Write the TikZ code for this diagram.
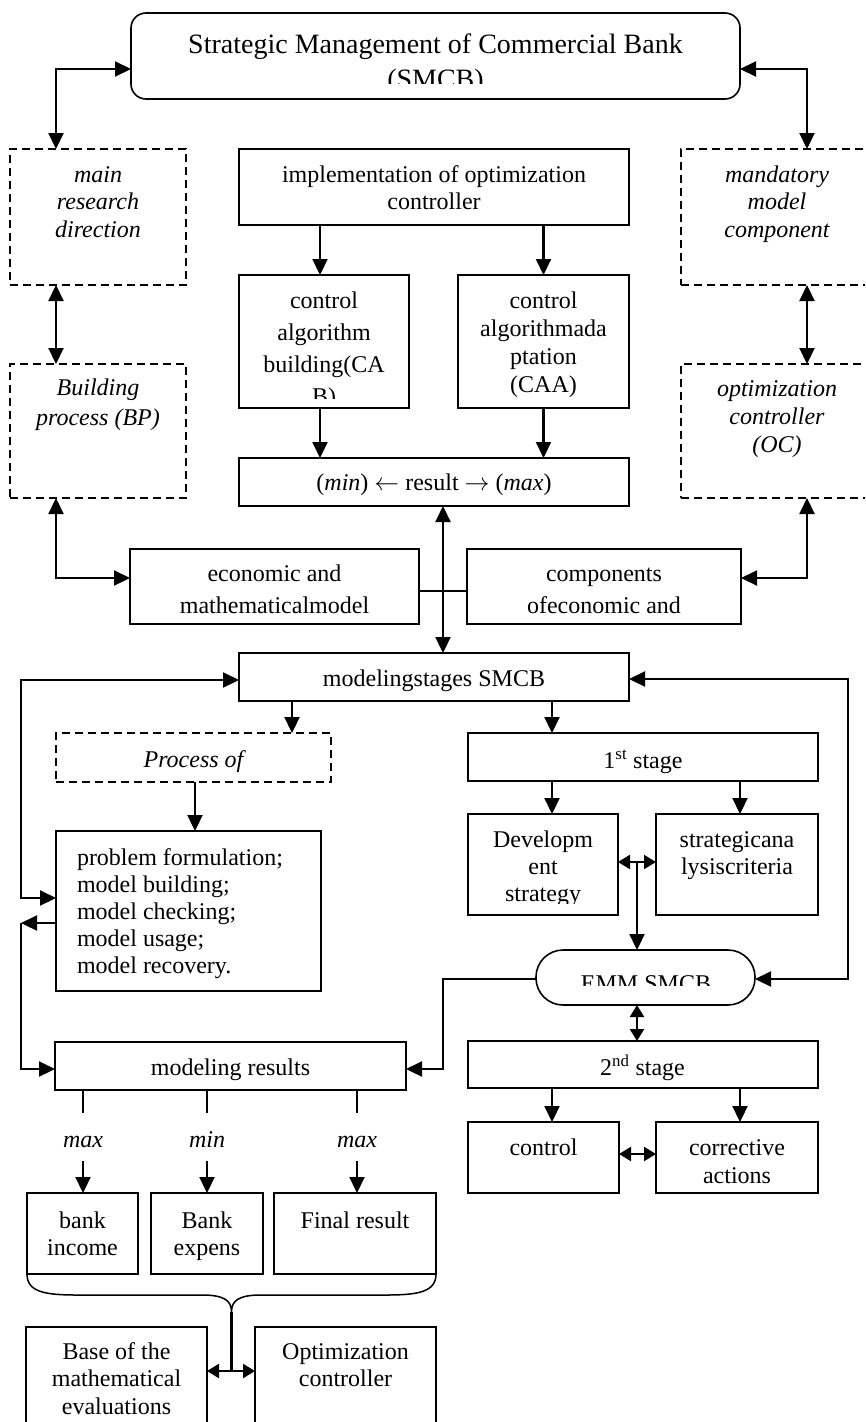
\documentclass[tikz,border=0pt]{standalone}
\usepackage{fontspec}
\setmainfont{Liberation Serif}
\usetikzlibrary{arrows.meta,calc}
\newcommand{\fh}{\rule{0pt}{17pt}}
\newcommand{\fhb}{\rule{0pt}{20pt}}
\begin{document}
\begin{tikzpicture}[x=1pt,y=-1pt,
  bx/.style={draw, line width=1.6pt, inner sep=0pt, outer sep=0pt},
  dbx/.style={bx, dash pattern=on 8pt off 5pt},
  tx/.style={inner sep=0pt, outer sep=0pt, anchor=north, align=center, font=\fontsize{24}{28}\selectfont},
  itx/.style={tx, font=\fontsize{24}{28}\selectfont\itshape},
  ar/.style={line width=2.2pt, -{Triangle[length=16pt,width=15pt]}},
  dar/.style={line width=2.2pt, {Triangle[length=16pt,width=15pt]}-{Triangle[length=16pt,width=15pt]}},
  sdar/.style={line width=2.2pt, {Triangle[length=12pt,width=14pt]}-{Triangle[length=12pt,width=14pt]}},
  ln/.style={line width=2.2pt},
]
\useasboundingbox (0,0) rectangle (865,1422);
\clip (0,0) rectangle (865,1422);
\fill[white] (0,0) rectangle (865,1422);

% ---------- boxes ----------
\node[bx, rounded corners=15pt, minimum width=609pt, minimum height=86pt] (top) at (435.5,56) {};
\node[dbx, minimum width=176pt, minimum height=136pt] (mrd) at (98,217) {};
\node[dbx, minimum width=176pt, minimum height=134pt] (bp) at (98,431) {};
\node[bx, minimum width=390pt, minimum height=76pt] (impl) at (434,187) {};
\node[bx, minimum width=170pt, minimum height=133pt] (cab) at (324,341.5) {};
\node[bx, minimum width=171pt, minimum height=133pt] (caa) at (543.5,341.5) {};
\node[dbx, minimum width=192pt, minimum height=136pt] (mmc) at (777,217) {};
\node[dbx, minimum width=192pt, minimum height=134pt] (oc) at (777,431) {};
\node[bx, minimum width=390pt, minimum height=48pt] (res) at (434,482) {};
\node[bx, minimum width=289pt, minimum height=75pt] (econ) at (274.5,586.5) {};
\node[bx, minimum width=274pt, minimum height=75pt] (comp) at (604,586.5) {};
\node[bx, minimum width=390pt, minimum height=48pt] (stg) at (434,677) {};
\node[dbx, minimum width=275pt, minimum height=49pt] (proc) at (193.5,757.5) {};
\node[bx, minimum width=265pt, minimum height=160pt] (prob) at (188.5,911) {};
\node[bx, minimum width=350pt, minimum height=48pt] (st1) at (643,757) {};
\node[bx, minimum width=150pt, minimum height=101pt] (dev) at (543,864.5) {};
\node[bx, minimum width=162pt, minimum height=101pt] (sa) at (737,864.5) {};
\node[bx, rounded corners=27pt, minimum width=219pt, minimum height=55pt] (emm) at (645.5,977.5) {};
\node[bx, minimum width=350pt, minimum height=47pt] (st2) at (643,1064.5) {};
\node[bx, minimum width=151pt, minimum height=71pt] (ctl) at (543.5,1157.5) {};
\node[bx, minimum width=162pt, minimum height=71pt] (ca) at (737,1157.5) {};
\node[bx, minimum width=351pt, minimum height=48pt] (mres) at (230.5,1066) {};
\node[bx, minimum width=111pt, minimum height=81pt] (bi) at (82.5,1233.5) {};
\node[bx, minimum width=112pt, minimum height=81pt] (be) at (207,1233.5) {};
\node[bx, minimum width=162pt, minimum height=81pt] (fr) at (355,1233.5) {};
\node[bx, minimum width=181pt, minimum height=115pt] (base) at (116.5,1384.5) {};
\node[bx, minimum width=181pt, minimum height=115pt] (opt) at (345.5,1384.5) {};

% ---------- texts ----------
\begin{scope}
\clip (top.north west) rectangle ($(top.south east)+(0,-16)$);
\node[tx, font=\fontsize{28}{35}\selectfont] (topT) at (435.5,33) {\fhb Strategic Management of Commercial Bank\\(SMCB)};
\end{scope}
\node[itx, font=\fontsize{24}{27.5}\selectfont\itshape] (mrdT) at (98,165) {\fh main\\research\\direction};
\node[itx, font=\fontsize{24}{30}\selectfont\itshape] (bpT) at (98,378) {\fh Building\\process (BP)};
\node[tx, font=\fontsize{24}{27}\selectfont] (implT) at (434,165) {\fh implementation of optimization\\controller};
\begin{scope}
\clip (cab.north west) rectangle ($(cab.south east)+(0,-10)$);
\node[tx, font=\fontsize{24}{32}\selectfont] (cabT) at (324,291) {\fh control\\algorithm\\building(CA\\B)};
\end{scope}
\node[tx] (caaT) at (543.5,291) {\fh control\\algorithmada\\ptation\\(CAA)};
\node[itx, font=\fontsize{24}{27.5}\selectfont\itshape] (mmcT) at (777,165) {\fh mandatory\\model\\component};
\node[itx] (ocT) at (777,379) {\fh optimization\\controller\\(OC)};
\node[tx] (resT) at (434,473) {\fh(\textit{min}) $\leftarrow$ result $\rightarrow$ (\textit{max})};
\node[tx, font=\fontsize{24}{32}\selectfont] (econT) at (274.5,564) {\fh economic and\\mathematicalmodel};
\node[tx, font=\fontsize{24}{32}\selectfont] (compT) at (604,564) {\fh components\\ofeconomic and};
\node[tx] (stgT) at (434,669) {\fh modelingstages SMCB};
\node[itx] (procT) at (193.5,750) {\fh Process of};
\node[tx, anchor=north west, align=left, font=\fontsize{24}{27}\selectfont] (probT) at (77,848) {\fh problem formulation;\\model building;\\model checking;\\model usage;\\model recovery.};
\node[tx] (st1T) at (643,750) {\fh 1\textsuperscript{st} stage};
\begin{scope}
\clip (dev.north west) rectangle ($(dev.south east)+(0,-12)$);
\node[tx, font=\fontsize{24}{27}\selectfont] (devT) at (543,830) {\fh Developm\\ent\\strategy};
\end{scope}
\node[tx, font=\fontsize{24}{27}\selectfont] (saT) at (737,830) {\fh strategicana\\lysiscriteria};
\begin{scope}
\clip (emm.north west) rectangle ($(emm.south east)+(0,-20)$);
\node[tx] (emmT) at (646,974) {\fh EMM SMCB};
\end{scope}
\node[tx] (st2T) at (642.5,1055) {\fh 2\textsuperscript{nd} stage};
\node[tx] (ctlT) at (543.5,1138) {\fh control};
\node[tx] (caT) at (737,1138) {\fh corrective\\actions};
\node[tx] (mresT) at (230.5,1058) {\fh modeling results};
\node[itx] (l1) at (83,1130) {\fh max};
\node[itx] (l2) at (207,1130) {\fh min};
\node[itx] (l3) at (357,1130) {\fh max};
\node[tx, font=\fontsize{24}{27}\selectfont] (biT) at (82.5,1211) {\fh bank\\income};
\node[tx, font=\fontsize{24}{27}\selectfont] (beT) at (207,1211) {\fh Bank\\expens};
\node[tx] (frT) at (355,1211) {\fh Final result};
\node[tx, font=\fontsize{24}{27.5}\selectfont] (baseT) at (116.5,1342) {\fh Base of the\\mathematical\\evaluations};
\node[tx, font=\fontsize{24}{27.5}\selectfont] (optT) at (345.5,1342) {\fh Optimization\\controller};

% ---------- connectors ----------
\draw[dar] ($(top.west)+(0,13)$) -| ($(mrd.north)+(-42,0)$);
\draw[dar] ($(mrd.south)+(-42,0)$) -- ($(bp.north)+(-42,0)$);
\draw[dar] ($(bp.south)+(-42,0)$) |- ($(econ.west)+(0,-8.5)$);
\draw[dar] ($(top.east)+(0,13)$) -| ($(mmc.north)+(30,0)$);
\draw[dar] ($(mmc.south)+(30,0)$) -- ($(oc.north)+(30,0)$);
\draw[dar] ($(oc.south)+(30,0)$) |- ($(comp.east)+(0,-8.5)$);

\draw[ar] ($(impl.south)+(-114,0)$) -- ($(cab.north)+(-4,0)$);
\draw[ar] (impl.south -| caa.north) -- (caa.north);
\draw[ar] ($(cab.south)+(-4,0)$) -- ($(cab.south |- res.north)+(-4,0)$);
\draw[ar] (caa.south) -- (caa.south |- res.north);
\draw[dar] ($(res.south)+(9,0)$) -- ($(stg.north)+(9,0)$);
\draw[line width=1.3pt] ($(econ.east)+(0,4.5)$) -- ($(comp.west)+(0,4.5)$);

\draw[dar] ($(stg.west)+(0,3)$) -- ++(-218,0) |- ($(prob.west)+(0,-13)$);
\draw[ar] ($(prob.west)+(0,12)$) -- ++(-35,0) coordinate (c1);
\draw[ar] (c1) |- ($(mres.west)+(0,3)$);
\draw[ar] ($(stg.south)+(-142,0)$) -- ($(proc.north)+(98.5,0)$);
\draw[ar] ($(proc.south)+(1.5,0)$) -- ($(prob.north)+(6.5,0)$);
\draw[ar] ($(stg.south)+(118,0)$) -- ($(st1.north)+(-91,0)$);
\draw[dar] ($(stg.east)+(0,2)$) -- ++(219,0) |- ($(emm.east)+(0,1.5)$);
\draw[ar] ($(st1.south)+(-91,0)$) -- ($(dev.north)+(9,0)$);
\draw[ar] ($(st1.south)+(97,0)$) -- ($(sa.north)+(3,0)$);
\draw[sdar] ($(dev.east)+(0,-2.5)$) -- ($(sa.west)+(0,-2.5)$);
\coordinate (vj) at ($(dev.east)!0.5!(sa.west)+(0,-2.5)$);
\draw[ar] (vj) -- (vj |- emm.north);
\draw[ar] ($(emm.west)+(0,1.5)$) -- ++(-93,0) |- ($(mres.east)+(0,3)$);
\draw[sdar] ($(emm.south)+(-8.5,0)$) -- ($(st2.north)+(-6,0)$);
\draw[ar] ($(st2.south)+(-91,0)$) -- ($(ctl.north)+(8.5,0)$);
\draw[ar] ($(st2.south)+(97,0)$) -- ($(ca.north)+(3,0)$);
\draw[sdar] ($(ctl.east)+(0,-3.5)$) -- ($(ca.west)+(0,-3.5)$);

\draw[ln] ($(mres.south)+(-147.5,0)$) -- ($(l1.north)+(0,-17)$);
\draw[ln] ($(mres.south)+(-23.5,0)$) -- ($(l2.north)+(0,-17)$);
\draw[ln] ($(mres.south)+(126.5,0)$) -- ($(l3.north)+(0,-17)$);
\draw[ar] ($(l1.south)+(0,14)$) -- (bi.north -| l1.south);
\draw[ar] ($(l2.south)+(0,14)$) -- (be.north -| l2.south);
\draw[ar] ($(l3.south)+(0,14)$) -- (fr.north -| l3.south);

% brace
\coordinate (bl) at (bi.south west);
\coordinate (br) at (fr.south east);
\coordinate (tip) at ($(bl)!0.5!(br)+(0,38)$);
\draw[line width=1.5pt] (bl) .. controls ($(bl)+(0,18)$) and ($(bl)+(18,21)$) .. ($(bl)+(50,21)$)
  -- ($(tip)+(-30,-17)$) .. controls ($(tip)+(-8,-17)$) and ($(tip)+(0,-12)$) .. (tip)
  .. controls ($(tip)+(0,-12)$) and ($(tip)+(8,-17)$) .. ($(tip)+(30,-17)$)
  -- ($(br)+(-50,21)$) .. controls ($(br)+(-18,21)$) and ($(br)+(0,18)$) .. (br);
\coordinate (bj) at ($(base.east)+(0,-13.5)$);
\draw[ln] (tip) -- (tip |- bj);
\draw[sdar] (bj) -- ($(opt.west)+(0,-13.5)$);
\end{tikzpicture}
\end{document}
